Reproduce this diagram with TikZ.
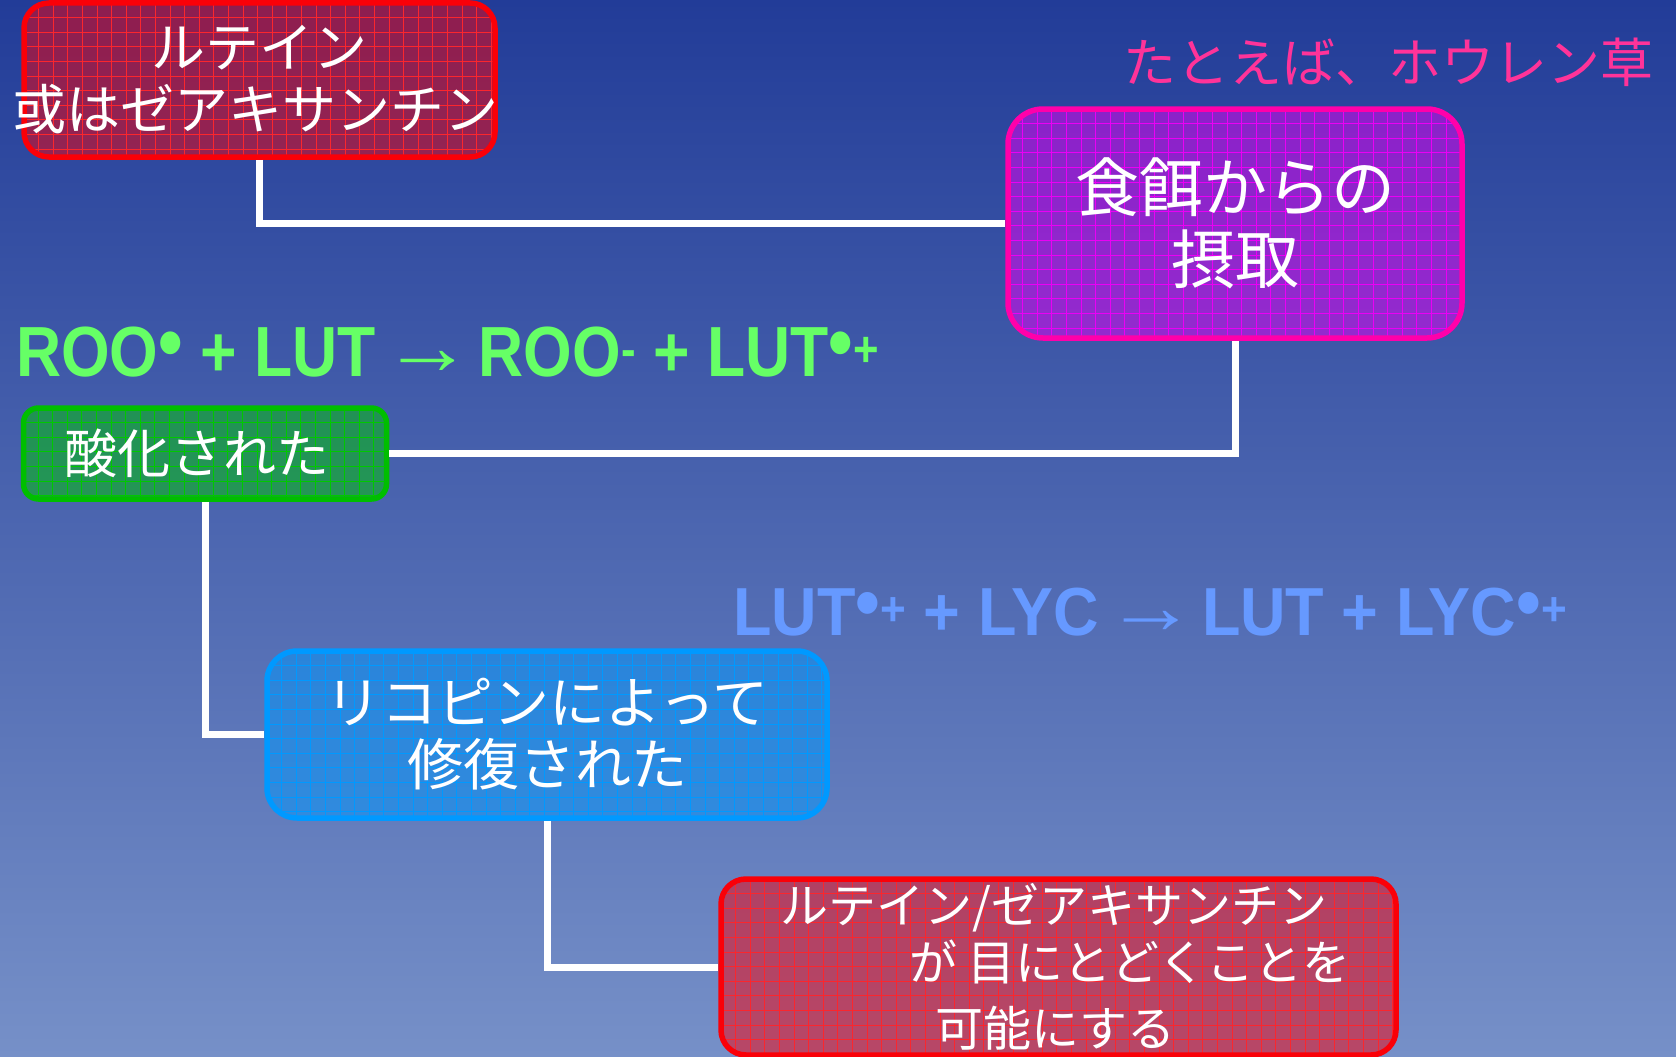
\documentclass[tikz,border=0pt]{standalone}
\usepackage{fontspec}
\setmainfont{Liberation Sans}
\newfontfamily\jp{Noto Sans CJK JP}
\definecolor{bgtop}{RGB}{34,60,152}
\definecolor{bgbot}{RGB}{118,144,200}
\definecolor{eqgreen}{RGB}{102,255,102}
\definecolor{eqblue}{RGB}{102,153,255}
\definecolor{pinktxt}{RGB}{255,51,153}
\definecolor{boxred}{RGB}{250,0,8}
\definecolor{boxmag}{RGB}{235,0,245}
\definecolor{bordmag}{RGB}{255,0,170}
\definecolor{boxgreen}{RGB}{0,200,0}
\definecolor{bordgreen}{RGB}{0,190,0}
\definecolor{boxblue}{RGB}{0,153,255}
\newcommand\bigbul{\raisebox{-3pt}{\scalebox{1.6}{•}}}
\newcommand\thinarrow{\hspace{-0.17em}{\mdseries\raisebox{2pt}{\scalebox{1.45}[1.15]{→}}}\hspace{-0.19em}}
\tikzset{
  gridfill/.style={path picture={
    \foreach \k in {1,...,50}{
      \draw[#1,line width=0.9pt] ([xshift=\k*14.6pt]path picture bounding box.north west) -- ([xshift=\k*14.6pt]path picture bounding box.south west);
      \draw[#1,line width=0.9pt] ([yshift=-\k*14.6pt]path picture bounding box.north west) -- ([yshift=-\k*14.6pt]path picture bounding box.north east);
    }}},
  cbox/.style={draw, line width=5.5pt, fill opacity=0.5, text opacity=1, text=white,
    inner sep=0pt, align=center},
  conn/.style={draw=white, line width=7pt},
  eqtext/.style={inner sep=0pt, anchor=base west, font=\bfseries\fontsize{71}{80}\selectfont},
  jptext/.style={inner sep=0pt, text=white},
}
\begin{document}
\begin{tikzpicture}[x=1pt,y=-1pt]
\shade[top color=bgtop,bottom color=bgbot] (0,0) rectangle (1676,1057);
\useasboundingbox (0,0) rectangle (1676,1057);

% boxes
\node[cbox, draw=boxred, fill=boxred, gridfill={boxred!85!white}, rounded corners=25pt,
  minimum width=471pt, minimum height=154pt, font=\jp\fontsize{54}{62}\selectfont]
  (lut) at (259.5,80) {\makebox[0pt]{ルテイン}\\\makebox[0pt]{或はゼアキサンチン\hspace*{8pt}}};

\node[cbox, draw=bordmag, fill=boxmag, gridfill={boxmag}, rounded corners=35pt,
  minimum width=454pt, minimum height=229pt, font=\jp\fontsize{64}{72}\selectfont]
  (food) at (1235,223.5) {\makebox[0pt]{食餌からの}\\\makebox[0pt]{摂取}};

\node[cbox, draw=bordgreen, fill=boxgreen, gridfill={boxgreen}, rounded corners=15pt,
  minimum width=363pt, minimum height=91pt, font=\jp\fontsize{53}{62}\selectfont]
  (oxid) at (205,453.5) {\makebox[0pt]{酸化された\hspace*{16pt}}};

\node[cbox, draw=boxblue, fill=boxblue, gridfill={boxblue}, rounded corners=30pt,
  minimum width=560pt, minimum height=167pt, font=\jp\fontsize{56}{62}\selectfont]
  (rep) at (547,734.5) {\makebox[0pt]{リコピンによって}\\\makebox[0pt]{修復された}};

\node[cbox, draw=boxred, fill=boxred, gridfill={boxred!85!white}, rounded corners=25pt,
  minimum width=675pt, minimum height=176pt]
  (eye) at (1058.5,967) {};
\node[jptext, anchor=west, font=\jp\fontsize{48}{56}\selectfont] (eyeA) at (780,908) {ルテイン/ゼアキサンチン};
\node[jptext, anchor=west, font=\jp\fontsize{48}{56}\selectfont] (eyeB) at (909,962) {が 目にとどくことを};
\node[jptext, anchor=west, font=\jp\fontsize{48}{56}\selectfont] (eyeC) at (935,1028) {可能にする};

% connectors
\draw[conn] (lut.south) |- (food.west);
\draw[conn] (food.south) |- (oxid.east);
\draw[conn] (oxid.south) |- (rep.west);
\draw[conn] (rep.south) |- (eye.west);

% free texts
\node[inner sep=0pt, text=pinktxt, font=\jp\fontsize{53}{60}\selectfont] (ex) at (1388,62) {たとえば、ホウレン草};
\node[eqtext, text=eqgreen] (eq1) at (16,376)
  {\resizebox{863pt}{\height}{ROO\textsuperscript{\bigbul} + LUT \thinarrow{} ROO\textsuperscript{-} + LUT\textsuperscript{\bigbul+}}};
\node[eqtext, text=eqblue, font=\bfseries\fontsize{68}{76}\selectfont] (eq2) at (733,635)
  {\resizebox{834pt}{\height}{LUT\textsuperscript{\bigbul+} + LYC \thinarrow{} LUT + LYC\textsuperscript{\bigbul+}}};
\end{tikzpicture}
\end{document}
